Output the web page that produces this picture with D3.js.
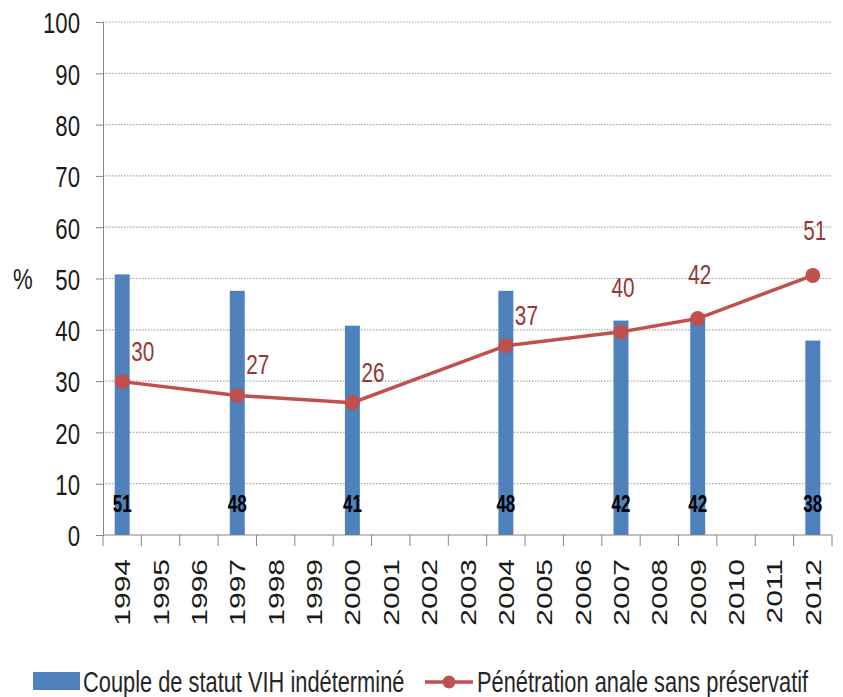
<!DOCTYPE html>
<html>
<head>
<meta charset="utf-8">
<script src="https://cdn.jsdelivr.net/npm/d3@7"></script>
<style>
  body { margin: 0; background: #fff; }
  svg text { font-family: "Liberation Sans", Arial, sans-serif; }
</style>
</head>
<body>
<svg id="chart" width="843" height="697"></svg>
<script>
// years on the x axis (one band each)
var years = ['1994','1995','1996','1997','1998','1999','2000','2001','2002','2003',
             '2004','2005','2006','2007','2008','2009','2010','2011','2012'];
// survey years that carry data
var surveyYears = ['1994','1997','2000','2004','2007','2009','2012'];
// bars: couple de statut VIH indéterminé (%)
var coupleValues = [50.8, 47.6, 40.8, 47.6, 41.8, 42.2, 37.9];
// line: pénétration anale sans préservatif (%)
var penetrationValues = [29.9, 27.2, 25.8, 36.9, 39.6, 42.2, 50.6];
// where Excel put each line label
var labelPlace = ['right','right','right','right','above','above','above'];
var yTicks = [0,10,20,30,40,50,60,70,80,90,100];

var seriesNames = ['Couple de statut VIH indéterminé', 'Pénétration anale sans préservatif'];

var barColor = '#4f81bd',
    lineColor = '#c0504d',
    labelRed = '#953735',
    axisGray = '#868686',
    squeeze = 0.74;            // the picture is narrower than the text

var margin = {left: 103, right: 11, top: 22, bottom: 162};
var svg = d3.select('#chart');
var W = +svg.attr('width'), H = +svg.attr('height');
var iw = W - margin.left - margin.right,
    ih = H - margin.top - margin.bottom;

var x = d3.scaleBand().domain(years).range([0, iw]).paddingInner(0).paddingOuter(0);
var y = d3.scaleLinear().domain([0, 100]).range([ih, 0]);
var barW = x.bandwidth() * 0.39;

var g = svg.append('g').attr('transform', 'translate(' + margin.left + ',' + margin.top + ')');

// dotted gridlines
g.append('g').selectAll('line')
  .data(yTicks.filter(function (d) { return d > 0; }))
  .enter().append('line')
  .attr('x1', 0).attr('x2', iw)
  .attr('y1', function (d) { return y(d); })
  .attr('y2', function (d) { return y(d); })
  .attr('stroke', '#a6a6a6')
  .attr('stroke-width', 1.2)
  .attr('stroke-dasharray', '1.5,1.5');

// y axis
var yAxis = g.append('g')
  .call(d3.axisLeft(y).tickValues(yTicks).tickSize(7).tickPadding(0));
yAxis.select('.domain').attr('stroke', axisGray);
yAxis.selectAll('.tick line').attr('stroke', axisGray);
yAxis.selectAll('.tick text')
  .attr('x', null).attr('dy', '0.36em')
  .attr('transform', 'translate(-23,0) scale(' + squeeze + ',1)')
  .attr('font-size', 30)
  .attr('fill', '#1a1a1a')
  .attr('font-family', '"Liberation Sans", Arial, sans-serif');

// bars
var pts = surveyYears.map(function (yr, i) {
  return {year: yr, bar: coupleValues[i], line: penetrationValues[i], place: labelPlace[i]};
});
var cx = function (d) { return x(d.year) + x.bandwidth() / 2; };

g.append('g').selectAll('rect')
  .data(pts)
  .enter().append('rect')
  .attr('x', function (d) { return cx(d) - barW / 2; })
  .attr('width', barW)
  .attr('y', function (d) { return y(d.bar); })
  .attr('height', function (d) { return ih - y(d.bar); })
  .attr('fill', barColor);

// x axis: line + ticks between bands
g.append('line')
  .attr('x1', 0).attr('x2', iw)
  .attr('y1', ih).attr('y2', ih)
  .attr('stroke', axisGray);
g.append('g').selectAll('line')
  .data(years.concat(['end']))
  .enter().append('line')
  .attr('x1', function (d, i) { return i * x.step(); })
  .attr('x2', function (d, i) { return i * x.step(); })
  .attr('y1', ih).attr('y2', ih + 11)
  .attr('stroke', axisGray);

// rotated year labels
g.append('g').selectAll('text')
  .data(years)
  .enter().append('text')
  .attr('transform', function (d) {
    return 'translate(' + (x(d) + x.bandwidth() / 2) + ',' + (ih + 24) + ') scale(' + squeeze + ',1) rotate(-90)';
  })
  .attr('text-anchor', 'end')
  .attr('dy', '0.36em')
  .attr('font-size', 30)
  .attr('fill', '#1a1a1a')
  .text(function (d) { return d; });

// bar value labels near the base
g.append('g').selectAll('text')
  .data(pts)
  .enter().append('text')
  .attr('transform', function (d) { return 'translate(' + cx(d) + ',' + (ih - 23) + ') scale(' + squeeze + ',1)'; })
  .attr('text-anchor', 'middle')
  .attr('font-size', 23)
  .attr('font-weight', 'bold')
  .attr('fill', '#000')
  .text(function (d) { return d3.format('.0f')(d.bar); });

// line
var line = d3.line()
  .x(cx)
  .y(function (d) { return y(d.line); });
g.append('path')
  .datum(pts)
  .attr('d', line)
  .attr('fill', 'none')
  .attr('stroke', lineColor)
  .attr('stroke-width', 3.5);

g.append('g').selectAll('circle')
  .data(pts)
  .enter().append('circle')
  .attr('cx', cx)
  .attr('cy', function (d) { return y(d.line); })
  .attr('r', 7.5)
  .attr('fill', lineColor);

// line value labels
g.append('g').selectAll('text')
  .data(pts)
  .enter().append('text')
  .attr('transform', function (d) {
    var dx = d.place === 'right' ? 9 : 2,
        dy = d.place === 'right' ? -21 : -35;
    return 'translate(' + (cx(d) + dx) + ',' + (y(d.line) + dy) + ') scale(' + squeeze + ',1)';
  })
  .attr('text-anchor', function (d) { return d.place === 'right' ? 'start' : 'middle'; })
  .attr('font-size', 28)
  .attr('fill', labelRed)
  .text(function (d) { return d3.format('.0f')(d.line); });

// "%" axis title
svg.append('text')
  .attr('transform', 'translate(13,' + (margin.top + y(50)) + ') scale(' + squeeze + ',1)')
  .attr('dy', '0.36em')
  .attr('font-size', 30)
  .attr('fill', '#1a1a1a')
  .text('%');

// legend
var leg = svg.append('g').attr('transform', 'translate(0,681)');
leg.append('rect')
  .attr('x', 33).attr('y', -9)
  .attr('width', 47).attr('height', 18)
  .attr('fill', barColor);
leg.append('text')
  .attr('transform', 'translate(83,0) scale(' + squeeze + ',1)')
  .attr('dy', '0.36em')
  .attr('font-size', 29.5)
  .attr('fill', '#262626')
  .text(seriesNames[0]);
leg.append('line')
  .attr('x1', 425).attr('x2', 473)
  .attr('y1', 1).attr('y2', 1)
  .attr('stroke', lineColor)
  .attr('stroke-width', 3.5);
leg.append('circle')
  .attr('cx', 449).attr('cy', 1).attr('r', 6.5)
  .attr('fill', lineColor);
leg.append('text')
  .attr('transform', 'translate(477,0) scale(' + squeeze + ',1)')
  .attr('dy', '0.36em')
  .attr('font-size', 29.5)
  .attr('fill', '#262626')
  .text(seriesNames[1]);
</script>
</body>
</html>
